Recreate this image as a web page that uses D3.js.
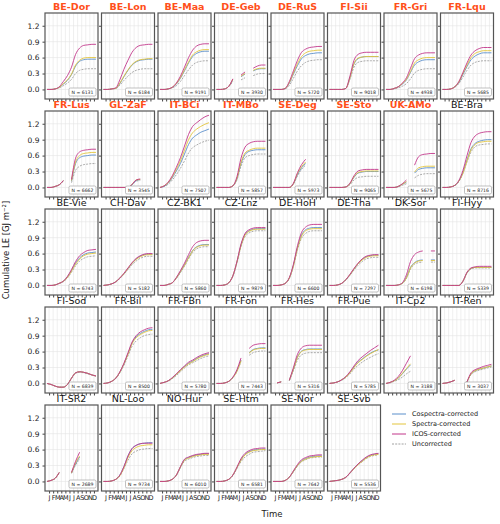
<!DOCTYPE html>
<html>
<head>
<meta charset="utf-8">
<script src="https://cdn.jsdelivr.net/npm/d3@7"></script>
<style>
  body { margin: 0; background: #fff; }
  text { font-family: "DejaVu Sans", sans-serif; }
</style>
</head>
<body>
<div id="chart"></div>
<script>
const sites = ["BE-Dor","BE-Lon","BE-Maa","DE-Geb","DE-RuS","FI-Sii","FR-Gri","FR-Lqu",
  "FR-Lus","GL-ZaF","IT-BCi","IT-MBo","SE-Deg","SE-Sto","UK-AMo","BE-Bra",
  "BE-Vie","CH-Dav","CZ-BK1","CZ-Lnz","DE-HoH","DE-Tha","DK-Sor","FI-Hyy",
  "FI-Sod","FR-Bil","FR-FBn","FR-Fon","FR-Hes","FR-Pue","IT-Cp2","IT-Ren",
  "IT-SR2","NL-Loo","NO-Hur","SE-Htm","SE-Nor","SE-Svb"];
const nObs = [6131,6184,9191,3930,5720,9018,4938,5685,6662,3545,7507,5857,5973,9065,5675,8716,
  6743,5182,5860,9879,6600,7297,6198,5339,6839,8500,5780,7443,5316,5785,3188,3037,
  2689,9734,6010,6581,7642,5536];
const highlighted = 15; // first 15 sites have red titles
const months = ["J","F","M","A","M","J","J","A","S","O","N","D"];
const yTicks = [0, 0.3, 0.6, 0.9, 1.2];
const n = null;

// cumulative values at month boundaries (Jan 1 ... Dec 31)
const icos = [
  [0,0,.01,.05,.15,.26,.42,.66,.78,.83,.84,.85,.85],
  [0,0,.01,.03,.18,.38,.55,.70,.79,.83,.84,.85,.85],
  [0,0,.01,.04,.12,.25,.42,.60,.74,.82,.85,.86,.86],
  [0,0,.01,.06,.20,n,.27,.33,n,.40,.44,.46,.46],
  [0,0,0,.02,.15,.35,.55,.70,.76,.79,.80,.81,.81],
  [0,0,0,0,.02,.25,.55,.66,.69,.70,.70,.70,.70],
  [0,0,.02,.05,.12,.22,.40,.58,.65,.68,.69,.69,.69],
  [0,0,.01,.05,.15,.32,.50,.65,.73,.77,.79,.79,.79],
  [0,0,.02,.05,.13,n,.15,.55,.67,.70,.71,.72,.72],
  [0,0,0,0,0,0,0,.06,.14,.16,n,n,n],
  [0,.03,.10,.22,.38,.56,.78,1.0,1.15,1.22,1.28,1.33,1.36],
  [0,0,0,0,.03,.20,.55,.76,.83,.86,.87,.87,.87],
  [0,0,0,0,0,.08,.28,.43,.53,n,n,n,n],
  [0,0,0,0,.01,.08,.22,.31,.33,.34,.34,.34,.34],
  [0,0,0,.02,.07,.14,n,.42,.58,.62,.63,.64,.64],
  [0,0,.01,.04,.13,.32,.60,.85,.97,1.02,1.04,1.05,1.05],
  [0,0,.01,.04,.08,.17,.30,.45,.56,.62,.66,.67,.68],
  [0,.01,.03,.07,.14,.23,.33,.43,.51,.56,.59,.60,.60],
  [0,0,.02,.05,.15,.28,.42,.58,.73,.81,.84,.85,.85],
  [0,0,.01,.05,.18,.45,.78,.98,1.05,1.08,1.09,1.09,1.09],
  [0,0,.01,.04,.15,.40,.75,1.0,1.10,1.14,1.15,1.15,1.15],
  [0,0,.01,.04,.11,.21,.32,.42,.50,.55,.57,.58,.58],
  [0,0,0,.01,.05,.20,.45,.58,.63,.65,n,.65,.65],
  [0,0,0,0,0,.08,.25,.33,.35,.36,.36,.36,.36],
  [0,-.02,-.05,-.07,-.07,-.02,.10,.20,.22,.21,.19,.16,.14],
  [0,.01,.04,.10,.22,.38,.58,.78,.90,.97,1.01,1.04,1.05],
  [0,.02,.05,.11,.18,.26,.33,.40,.44,.49,.53,.56,.58],
  [0,0,.01,.04,.12,.26,.48,n,.66,.72,.74,.75,.75],
  [n,.01,.03,n,.06,.30,.55,.67,.71,.72,.72,.72,.72],
  [0,.01,.03,.07,.13,.22,.33,.43,.50,.56,.62,.67,.72],
  [0,.02,.06,.13,.24,.38,.52,n,n,n,n,n,n],
  [0,.01,.03,.06,n,n,.03,.20,.26,.29,.32,.34,.36],
  [0,.02,.06,.17,n,n,.17,.38,.55,n,n,n,n],
  [0,0,.01,.04,.12,.28,.48,.62,.68,.71,.72,.72,.72],
  [0,0,.01,.04,.12,.28,.42,.46,.49,.51,.52,.53,.53],
  [0,0,.01,.04,.12,.27,.43,.53,.58,.61,.62,.63,.63],
  [0,0,0,.02,.08,.20,.32,.41,.45,.48,.49,.50,.50],
  [0,.01,.02,.04,.08,.16,.25,.33,.40,.46,.50,.52,.53]
];
const cospectra = [
  [0,0,.01,.04,.10,.17,.28,.44,.53,.56,.57,.57,.57],
  [0,0,.01,.02,.11,.24,.36,.46,.52,.55,.56,.57,.57],
  [0,0,.01,.04,.10,.21,.35,.50,.62,.68,.71,.72,.72],
  [0,0,.01,.06,.18,n,.24,.29,n,.35,.38,.39,.39],
  [0,0,0,.02,.12,.29,.45,.58,.64,.67,.68,.69,.69],
  [0,0,0,0,.02,.22,.48,.58,.61,.62,.62,.62,.62],
  [0,0,.02,.05,.10,.18,.32,.46,.52,.55,.56,.56,.56],
  [0,0,.01,.05,.13,.28,.43,.56,.63,.67,.69,.69,.69],
  [0,0,.02,.05,.13,n,.12,.45,.56,.59,.60,.61,.61],
  [0,0,0,0,0,0,0,.05,.13,.15,n,n,n],
  [0,.02,.08,.18,.31,.45,.63,.81,.93,.99,1.04,1.07,1.10],
  [0,0,0,0,.03,.16,.45,.62,.68,.70,.71,.71,.71],
  [0,0,0,0,0,.07,.24,.37,.45,n,n,n,n],
  [0,0,0,0,.01,.07,.19,.27,.29,.30,.30,.30,.30],
  [0,0,0,.02,.06,.10,n,.27,.34,.36,.37,.37,.37],
  [0,0,.01,.04,.12,.28,.52,.73,.83,.87,.89,.90,.90],
  [0,0,.01,.04,.08,.16,.28,.42,.52,.58,.61,.62,.63],
  [0,.01,.03,.07,.14,.22,.32,.42,.50,.55,.58,.59,.59],
  [0,0,.02,.05,.14,.26,.39,.53,.66,.73,.76,.77,.77],
  [0,0,.01,.05,.18,.44,.76,.96,1.03,1.06,1.07,1.07,1.07],
  [0,0,.01,.04,.14,.38,.71,.95,1.05,1.08,1.09,1.09,1.09],
  [0,0,.01,.04,.11,.20,.31,.41,.49,.54,.56,.57,.57],
  [0,0,0,.01,.04,.15,.34,.43,.47,.48,n,.48,.48],
  [0,0,0,0,0,.08,.24,.32,.34,.34,.34,.34,.34],
  [0,-.02,-.05,-.07,-.07,-.02,.10,.20,.22,.21,.19,.16,.14],
  [0,.01,.04,.10,.21,.37,.56,.76,.88,.94,.98,1.01,1.02],
  [0,.02,.05,.10,.17,.25,.32,.38,.42,.47,.51,.54,.56],
  [0,0,.01,.04,.11,.24,.44,n,.58,.64,.66,.67,.67],
  [n,.01,.03,n,.06,.27,.50,.61,.64,.65,.65,.65,.65],
  [0,.01,.03,.07,.12,.21,.31,.40,.46,.52,.57,.61,.63],
  [0,.02,.05,.10,.18,.27,.35,n,n,n,n,n,n],
  [0,.01,.03,.06,n,n,.03,.18,.24,.27,.29,.31,.33],
  [0,.02,.06,.17,n,n,.16,.33,.46,n,n,n,n],
  [0,0,.01,.04,.12,.28,.48,.62,.68,.71,.72,.73,.73],
  [0,0,.01,.04,.12,.27,.41,.45,.48,.50,.51,.52,.52],
  [0,0,.01,.04,.12,.26,.41,.51,.56,.59,.60,.61,.61],
  [0,0,0,.02,.08,.19,.30,.39,.43,.46,.47,.48,.48],
  [0,.01,.02,.04,.08,.16,.25,.33,.39,.45,.49,.51,.52]
];
const spectra = [
  [0,0,.01,.04,.11,.18,.29,.46,.55,.59,.60,.60,.60],
  [0,0,.01,.02,.12,.25,.37,.47,.53,.56,.57,.58,.58],
  [0,0,.01,.04,.11,.22,.37,.52,.65,.71,.74,.75,.75],
  [0,0,.01,.06,.19,n,.25,.30,n,.36,.39,.40,.40],
  [0,0,0,.02,.13,.31,.49,.62,.69,.72,.73,.74,.74],
  [0,0,0,0,.02,.22,.49,.59,.61,.62,.62,.62,.62],
  [0,0,.02,.05,.11,.19,.34,.50,.56,.59,.60,.60,.60],
  [0,0,.01,.05,.14,.30,.46,.60,.68,.71,.73,.73,.73],
  [0,0,.02,.05,.13,n,.13,.48,.60,.64,.65,.66,.66],
  [0,0,0,0,0,0,0,.06,.14,.15,n,n,n],
  [0,.03,.09,.20,.34,.50,.70,.90,1.03,1.10,1.15,1.19,1.22],
  [0,0,0,0,.03,.17,.47,.65,.70,.73,.74,.74,.74],
  [0,0,0,0,0,.07,.26,.39,.48,n,n,n,n],
  [0,0,0,0,.01,.07,.20,.28,.30,.31,.31,.31,.31],
  [0,0,0,.02,.06,.11,n,.29,.37,.39,.40,.40,.40],
  [0,0,.01,.04,.12,.27,.50,.71,.81,.85,.86,.87,.87],
  [0,0,.01,.04,.08,.15,.27,.40,.50,.56,.59,.60,.61],
  [0,.01,.03,.07,.14,.22,.32,.42,.49,.54,.57,.58,.58],
  [0,0,.02,.05,.14,.26,.38,.52,.65,.72,.75,.76,.76],
  [0,0,.01,.05,.18,.44,.75,.95,1.02,1.05,1.06,1.06,1.06],
  [0,0,.01,.04,.14,.37,.70,.93,1.03,1.06,1.07,1.07,1.07],
  [0,0,.01,.04,.11,.20,.31,.41,.48,.53,.55,.56,.56],
  [0,0,0,.01,.04,.14,.33,.42,.46,.47,n,.47,.47],
  [0,0,0,0,0,.08,.24,.32,.34,.34,.34,.34,.34],
  [0,-.02,-.05,-.07,-.07,-.02,.10,.20,.22,.21,.19,.16,.14],
  [0,.01,.04,.10,.21,.37,.55,.75,.86,.92,.96,.99,1.00],
  [0,.02,.05,.10,.17,.24,.31,.37,.41,.46,.50,.53,.55],
  [0,0,.01,.04,.11,.23,.43,n,.57,.63,.65,.66,.66],
  [n,.01,.03,n,.06,.27,.49,.60,.63,.64,.64,.64,.64],
  [0,.01,.03,.07,.12,.20,.30,.39,.45,.51,.56,.60,.64],
  [0,.02,.05,.10,.19,.28,.37,n,n,n,n,n,n],
  [0,.01,.03,.06,n,n,.03,.18,.24,.27,.29,.31,.33],
  [0,.02,.06,.17,n,n,.16,.35,.48,n,n,n,n],
  [0,0,.01,.04,.11,.26,.45,.58,.64,.67,.68,.69,.69],
  [0,0,.01,.04,.12,.27,.40,.44,.47,.49,.50,.51,.51],
  [0,0,.01,.04,.12,.26,.40,.50,.55,.58,.59,.60,.60],
  [0,0,0,.02,.08,.19,.30,.38,.42,.45,.46,.47,.47],
  [0,.01,.02,.04,.08,.16,.24,.32,.38,.44,.48,.50,.51]
];
const uncorrected = [
  [0,0,.01,.03,.07,.12,.19,.30,.36,.38,.39,.39,.39],
  [0,0,.01,.02,.08,.17,.25,.32,.36,.38,.39,.39,.39],
  [0,0,.01,.03,.07,.15,.26,.37,.46,.51,.53,.54,.54],
  [0,0,.01,.05,.15,n,.18,.22,n,.26,.29,.30,.30],
  [0,0,0,.01,.08,.21,.35,.45,.51,.54,.55,.56,.56],
  [0,0,0,0,.02,.19,.42,.51,.53,.54,.54,.54,.54],
  [0,0,.01,.03,.06,.11,.20,.31,.36,.38,.39,.39,.39],
  [0,0,.01,.04,.11,.23,.36,.46,.51,.53,.54,.54,.54],
  [0,0,.02,.05,.12,n,.09,.32,.40,.43,.44,.45,.45],
  [0,0,0,0,0,0,0,.05,.12,.13,n,n,n],
  [0,.02,.06,.14,.24,.36,.50,.65,.75,.80,.84,.87,.89],
  [0,0,0,0,.03,.14,.40,.56,.60,.62,.63,.63,.63],
  [0,0,0,0,0,.06,.22,.34,.42,n,n,n,n],
  [0,0,0,0,.01,.05,.14,.19,.20,.21,.21,.21,.21],
  [0,0,0,.01,.04,.07,n,.18,.23,.25,.26,.26,.26],
  [0,0,.01,.03,.11,.26,.48,.67,.77,.80,.81,.82,.82],
  [0,0,.01,.04,.07,.14,.25,.37,.46,.51,.54,.55,.56],
  [0,.01,.03,.06,.13,.21,.30,.39,.46,.51,.54,.55,.55],
  [0,0,.02,.05,.13,.24,.36,.50,.62,.69,.72,.73,.73],
  [0,0,.01,.05,.17,.42,.73,.92,.99,1.02,1.03,1.03,1.03],
  [0,0,.01,.04,.13,.36,.67,.89,.98,1.02,1.03,1.03,1.03],
  [0,0,.01,.04,.10,.19,.29,.38,.45,.50,.52,.53,.53],
  [0,0,0,.01,.04,.13,.31,.40,.43,.44,n,.44,.44],
  [0,0,0,0,0,.07,.23,.31,.33,.33,.33,.33,.33],
  [0,-.02,-.05,-.07,-.07,-.02,.09,.19,.21,.20,.18,.16,.14],
  [0,.01,.04,.09,.20,.34,.52,.70,.80,.86,.90,.92,.93],
  [0,.02,.04,.09,.15,.22,.29,.35,.39,.43,.47,.50,.52],
  [0,0,.01,.04,.11,.22,.41,n,.53,.58,.60,.61,.61],
  [n,.01,.03,n,.05,.24,.44,.54,.57,.58,.58,.58,.58],
  [0,.01,.03,.06,.11,.18,.27,.34,.40,.45,.49,.53,.56],
  [0,.01,.04,.07,.12,.18,.23,n,n,n,n,n,n],
  [0,.01,.03,.06,n,n,.03,.17,.22,.25,.27,.29,.31],
  [0,.02,.06,.16,n,n,.15,.31,.42,n,n,n,n],
  [0,0,.01,.04,.10,.24,.40,.52,.57,.60,.61,.62,.62],
  [0,0,.01,.04,.11,.26,.38,.42,.45,.47,.48,.49,.49],
  [0,0,.01,.04,.11,.24,.37,.46,.51,.55,.56,.57,.58],
  [0,0,0,.02,.08,.18,.29,.37,.41,.44,.45,.46,.46],
  [0,.01,.02,.04,.07,.15,.24,.31,.37,.43,.47,.49,.50]
];

const seriesNames = ["Cospectra-corrected","Spectra-corrected","ICOS-corrected","Uncorrected"];
const seriesColors = ["#5b8fcb","#e3c53c","#c2378a","#a0a0a0"];

const W = 500, H = 524;
const ncol = 8;
const pw = 53, ph = 86, colStep = 56.5, rowStep = 98, left0 = 45, top0 = 13;

const svg = d3.select("#chart").append("svg").attr("width", W).attr("height", H);

const x = d3.scaleLinear().domain([-0.5, 12.5]).range([0, pw]);
const y = d3.scaleLinear().domain([-0.18, 1.44]).range([ph, 0]);
const line = d3.line()
    .defined(d => d != null)
    .curve(d3.curveMonotoneX)
    .x((d, i) => x(i))
    .y(d => y(d));
const monthCentres = d3.range(12).map(i => i + 0.5);

sites.forEach((site, k) => {
    const r = Math.floor(k / ncol), c = k % ncol;
    const g = svg.append("g").attr("transform", `translate(${left0 + c * colStep},${top0 + r * rowStep})`);

    // grid
    g.append("g").selectAll("line").data(monthCentres).join("line")
        .attr("x1", d => x(d)).attr("x2", d => x(d)).attr("y1", 0).attr("y2", ph)
        .attr("stroke", "#e4e4e4").attr("stroke-width", 0.6);
    g.append("g").selectAll("line").data(yTicks).join("line")
        .attr("x1", 0).attr("x2", pw).attr("y1", d => y(d)).attr("y2", d => y(d))
        .attr("stroke", "#e4e4e4").attr("stroke-width", 0.6);

    // axes
    const ya = g.append("g").call(d3.axisLeft(y).tickValues(yTicks).tickSize(2.5)
        .tickFormat(c === 0 ? d3.format(".1f") : ""));
    ya.select(".domain").remove();
    ya.selectAll("line").attr("stroke", "#444");
    ya.selectAll("text").attr("font-size", 7.5).attr("fill", "#222");

    const lastRow = k >= sites.length - ncol + 2 - 2 && r === Math.floor((sites.length - 1) / ncol);
    const xa = g.append("g").attr("transform", `translate(0,${ph})`)
        .call(d3.axisBottom(x).tickValues(monthCentres).tickSize(2.5)
        .tickFormat((d, i) => lastRow ? months[i] : ""));
    xa.select(".domain").remove();
    xa.selectAll("line").attr("stroke", "#444");
    xa.selectAll("text").attr("font-size", 6.5).attr("fill", "#222").attr("dy", "0.5em");

    // series, uncorrected first, ICOS on top
    const data = [uncorrected[k], cospectra[k], spectra[k], icos[k]];
    const idx = [3, 0, 1, 2];
    data.forEach((vals, j) => {
        g.append("path").attr("d", line(vals)).attr("fill", "none")
            .attr("stroke", seriesColors[idx[j]]).attr("stroke-width", 0.9)
            .attr("stroke-dasharray", idx[j] === 3 ? "2,1.2" : null);
    });

    // frame
    g.append("rect").attr("width", pw).attr("height", ph).attr("fill", "none")
        .attr("stroke", "#555").attr("stroke-width", 1.2);

    // N box
    const bw = 27, bh = 8;
    g.append("rect").attr("x", pw - bw - 2).attr("y", ph - bh - 3).attr("width", bw).attr("height", bh)
        .attr("rx", 1.5).attr("fill", "#fff").attr("stroke", "#999").attr("stroke-width", 0.6);
    g.append("text").attr("x", pw - 2 - bw / 2).attr("y", ph - 3 - bh / 2).attr("dy", "0.35em")
        .attr("text-anchor", "middle").attr("font-size", 4.6).attr("fill", "#222")
        .text(`N = ${nObs[k]}`);

    // title
    g.append("text").attr("x", pw / 2).attr("y", -3).attr("text-anchor", "middle")
        .attr("font-size", 9.5)
        .attr("font-weight", k < highlighted ? "bold" : "normal")
        .attr("fill", k < highlighted ? "#ff4f1a" : "#111")
        .text(site);
});

// axis titles
svg.append("text").attr("transform", "translate(9,250) rotate(-90)")
    .attr("text-anchor", "middle").attr("font-size", 8.5).attr("fill", "#222")
    .text("Cumulative LE [GJ m⁻²]");
svg.append("text").attr("x", 272).attr("y", 517).attr("text-anchor", "middle")
    .attr("font-size", 8.5).attr("fill", "#222").text("Time");

// legend
const lg = svg.append("g").attr("transform", "translate(392,414)");
seriesNames.forEach((name, i) => {
    lg.append("line").attr("x1", 0).attr("x2", 14).attr("y1", i * 10).attr("y2", i * 10)
        .attr("stroke", seriesColors[i]).attr("stroke-width", 1)
        .attr("stroke-dasharray", i === 3 ? "2,1.2" : null);
    lg.append("text").attr("x", 20).attr("y", i * 10).attr("dy", "0.35em")
        .attr("font-size", 6.5).attr("fill", "#222").text(name);
});
</script>
</body>
</html>
